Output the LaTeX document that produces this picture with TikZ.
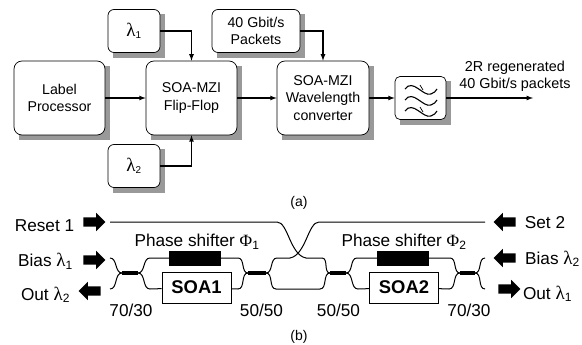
\documentclass[tikz,border=0pt]{standalone}
\usepackage{fontspec}
\setmainfont{Liberation Sans}
\newfontfamily\greekfont{Liberation Serif}
\usetikzlibrary{backgrounds,shapes.arrows}
\newcommand{\lam}[1]{{\greekfont\fontsize{19}{19}\selectfont λ}\textsubscript{#1}}
\definecolor{shadowgray}{HTML}{999999}
\tikzset{
  block/.style={draw, fill=white, line width=0.7pt, rounded corners=8pt, inner sep=0pt, align=center, font=\fontsize{14.2}{17.8}\selectfont},
  smallblock/.style={block, rounded corners=6pt},
  conn/.style={->, >=latex, line width=1.2pt},
  guide/.style={line width=1pt},
  coupler/.style={line width=3.6pt},
  shifter/.style={draw, fill=black, minimum width=51pt, minimum height=14pt, inner sep=0pt},
  soabox/.style={draw, fill=white, line width=0.8pt, minimum width=69pt, minimum height=31pt, inner sep=0pt, font=\fontsize{18.4}{19}\selectfont\bfseries},
  blockarrow/.style={single arrow, fill=black, minimum height=22pt, minimum width=0pt, single arrow head extend=4.5pt, single arrow tip angle=90, single arrow head indent=0pt, inner xsep=0pt, inner ysep=4.5pt},
  txt/.style={font=\fontsize{17.2}{19}\selectfont, inner sep=0pt},
  captxt/.style={font=\fontsize{14}{17}\selectfont, inner sep=0pt}
}
\begin{document}
\begin{tikzpicture}[x=1pt,y=-1pt]
\useasboundingbox (0,0) rectangle (582,345);
% part (a)
\node[block, minimum width=91pt, minimum height=74pt] (label) at (59.5,98) {Label\\Processor};
\node[block, minimum width=91pt, minimum height=74pt] (flipflop) at (191.5,98) {SOA-MZI\\Flip-Flop};
\node[block, minimum width=92pt, minimum height=74pt] (converter) at (323,98) {SOA-MZI\\Wavelength\\converter};
\node[smallblock, minimum width=52pt, minimum height=43pt] (lambdaone) at (134,31) {\lam{1}};
\node[smallblock, minimum width=52pt, minimum height=43pt] (lambdatwo) at (134,166) {\lam{2}};
\node[smallblock, minimum width=88pt, minimum height=43pt] (packets) at (256,31) {40 Gbit/s\\Packets};
\node[smallblock, rounded corners=5pt, minimum width=51pt, minimum height=43pt] (filter) at (420.5,98) {};
\begin{scope}[on background layer]
\foreach \n in {label,flipflop,converter,lambdaone,lambdatwo,packets,filter}
  \fill[shadowgray] ([shift={(5,5)}]\n.north west) rectangle ([shift={(5,5)}]\n.south east);
\end{scope}
% filter symbol
\foreach \dy in {0,11,22}
  \draw[line width=1.1pt] (405,89+\dy) .. controls (413,78+\dy) and (423,97+\dy) .. (431,94+\dy) .. controls (434,93+\dy) and (436,91+\dy) .. (437,89+\dy);
\draw[line width=0.7pt] (420,85) -- (423,90);
\draw[line width=0.7pt] (420,107) -- (423,112);
\coordinate (OUT) at (533,98); % end of output
\draw[conn] (label) -- (flipflop);
\draw[conn] (flipflop) -- (converter);
\draw[conn] (converter) -- (filter);
\draw[conn] (filter) -- (OUT);
\draw[conn] (lambdaone) -| (flipflop);
\draw[conn] (lambdatwo) -| (flipflop);
\draw[conn] (packets) -| (converter);
\node[align=center, inner sep=0pt, font=\fontsize{14.4}{17.4}\selectfont] (regen) at (515,76.5) {2R regenerated\\40 Gbit/s packets};
\node[captxt] (capa) at (299,203) {(a)};
% part (b)
\node[shifter] (shifterone) at (194.5,258) {};
\node[shifter] (shiftertwo) at (402.5,258) {};
\node[soabox] (soaone) at (196.5,287.5) {SOA1};
\node[soabox] (soatwo) at (404,287.5) {SOA2};
\coordinate (CAL) at (122,273); % first coupler
\coordinate (CAR) at (138,273);
\coordinate (CBL) at (248,273); % second coupler
\coordinate (CBR) at (266,273);
\coordinate (CCL) at (330,273); % third coupler
\coordinate (CCR) at (346,273);
\coordinate (CDL) at (460,273); % fourth coupler
\coordinate (CDR) at (475,273);
\draw[coupler] (CAL) -- (CAR);
\draw[coupler] (CBL) -- (CBR);
\draw[coupler] (CCL) -- (CCR);
\draw[coupler] (CDL) -- (CDR);
\coordinate (BIASL) at (110,258);
\coordinate (OUTL) at (110,289);
\coordinate (BIASR) at (485,258);
\coordinate (OUTR) at (485,289);
\draw[guide] (BIASL) to[out=0,in=180] (CAL);
\draw[guide] (OUTL) to[out=0,in=180] (CAL);
\draw[guide] (BIASR) to[out=180,in=0] (CDR);
\draw[guide] (OUTR) to[out=180,in=0] (CDR);
\draw[guide] (CAR) to[out=0,in=180] (150,258) -- (shifterone);
\draw[guide] (shifterone) -- (238,258) to[out=0,in=180] (CBL);
\draw[guide] (CAR) to[out=0,in=180] (150,289) -- (soaone);
\draw[guide] (soaone) -- (238,289) to[out=0,in=180] (CBL);
\draw[guide] (CCR) to[out=0,in=180] (357,258) -- (shiftertwo);
\draw[guide] (shiftertwo) -- (450,258) to[out=0,in=180] (CDL);
\draw[guide] (CCR) to[out=0,in=180] (358,289) -- (soatwo);
\draw[guide] (soatwo) -- (449,289) to[out=0,in=180] (CDL);
\coordinate (RESET) at (110,222);
\coordinate (SET) at (485,222);
\draw[guide] (RESET) -- (277,222) .. controls (288,222) and (290,255) .. (306,258) -- (322,258) to[out=0,in=180] (CCL);
\draw[guide] (SET) -- (319,222) .. controls (308,222) and (306,255) .. (290,258) -- (277,258) to[out=180,in=0] (CBR);
\draw[guide] (CBR) to[out=0,in=180] (276,289) -- (320,289) to[out=0,in=180] (CCL);
% labels of part (b)
\node[blockarrow] (resetarrow) at (92,222) {};
\node[blockarrow] (biasonearrow) at (92,260) {};
\node[blockarrow, shape border rotate=180] (outtwoarrow) at (92,291) {};
\node[blockarrow, shape border rotate=180] (setarrow) at (507,222) {};
\node[blockarrow, shape border rotate=180] (biastwoarrow) at (507,258) {};
\node[blockarrow] (outonearrow) at (507,289) {};
\node[txt] (reset) at (44.5,225.5) {Reset 1};
\node[txt] (biasone) at (45.5,261.5) {Bias \lam{1}};
\node[txt] (outtwo) at (45.5,295) {Out \lam{2}};
\node[txt] (settwo) at (545,223) {Set 2};
\node[txt] (biastwo) at (552.5,259) {Bias \lam{2}};
\node[txt] (outone) at (547.5,294) {Out \lam{1}};
\node[txt] (phaseone) at (197,241.5) {Phase shifter {\greekfont Φ}\textsubscript{1}};
\node[txt] (phasetwo) at (404,241.5) {Phase shifter {\greekfont Φ}\textsubscript{2}};
\node[txt] (ratioa) at (131,310) {70/30};
\node[txt] (ratiob) at (261.5,310) {50/50};
\node[txt] (ratioc) at (338.5,310) {50/50};
\node[txt] (ratiod) at (469,310) {70/30};
\node[captxt] (capb) at (299,337) {(b)};
\end{tikzpicture}
\end{document}
